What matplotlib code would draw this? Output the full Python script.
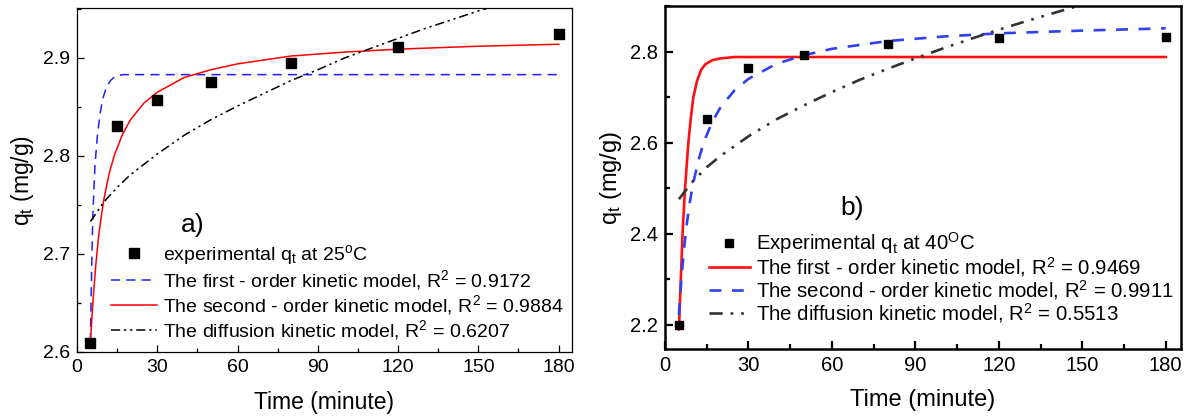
import matplotlib
matplotlib.use('Agg')
import matplotlib.pyplot as plt
from matplotlib.ticker import MultipleLocator

plt.rcParams['font.family'] = ['Liberation Sans', 'DejaVu Sans']
plt.rcParams['mathtext.default'] = 'regular'

# experimental points
t_exp = [5, 15, 30, 50, 80, 120, 180]
q_exp_25 = [2.609, 2.831, 2.857, 2.876, 2.895, 2.911, 2.924]
q_exp_40 = [2.200, 2.653, 2.763, 2.792, 2.816, 2.829, 2.831]

# panel a) model curves
t_fo_25 = [5, 5.3, 5.9, 6.7, 7.6, 8.6, 9.8, 11, 12.5, 14.2, 17, 180]
q_fo_25 = [2.610, 2.660, 2.738, 2.790, 2.820, 2.843, 2.860, 2.870, 2.877, 2.881, 2.883, 2.883]

t_so_25 = [5, 6, 7, 8, 9, 10, 12, 14, 17, 20, 25, 30, 40, 50, 60, 80, 100, 120, 150, 180]
q_so_25 = [2.610, 2.653, 2.688, 2.716, 2.737, 2.755, 2.782, 2.801, 2.822, 2.837, 2.854, 2.865,
           2.880, 2.888, 2.894, 2.902, 2.906, 2.909, 2.912, 2.914]

t_dif_25 = [5, 10, 15, 20, 30, 40, 50, 60, 70, 80, 90, 100, 110, 120, 130, 140, 150, 160]
q_dif_25 = [2.733, 2.753, 2.768, 2.781, 2.802, 2.821, 2.837, 2.851, 2.864, 2.877, 2.888, 2.900,
            2.910, 2.920, 2.930, 2.939, 2.948, 2.956]

# panel b) model curves
t_fo_40 = [5, 5.5, 6.3, 7.2, 8.4, 9.2, 10.2, 11.5, 13, 14.5, 17, 20, 25, 180]
q_fo_40 = [2.190, 2.270, 2.400, 2.500, 2.600, 2.650, 2.700, 2.735, 2.760, 2.772, 2.781, 2.785, 2.788, 2.788]

t_so_40 = [5, 6, 7, 8, 9, 10, 12, 14, 17, 20, 25, 30, 40, 50, 60, 80, 100, 120, 150, 180]
q_so_40 = [2.222, 2.310, 2.377, 2.429, 2.472, 2.507, 2.561, 2.602, 2.646, 2.678, 2.715, 2.740,
           2.773, 2.792, 2.806, 2.823, 2.833, 2.840, 2.846, 2.851]

t_dif_40 = [5, 10, 15, 20, 30, 40, 50, 60, 70, 80, 90, 100, 110, 120, 130, 140, 150, 160]
q_dif_40 = [2.476, 2.515, 2.546, 2.571, 2.614, 2.651, 2.682, 2.711, 2.738, 2.762, 2.785, 2.807,
            2.828, 2.848, 2.867, 2.885, 2.903, 2.920]

W, H = 1190, 417
fig = plt.figure(figsize=(W / 100, H / 100), dpi=100)


def box(x0, y0, x1, y1):
    # pixel box -> figure fraction rect
    return [x0 / W, 1 - y1 / H, (x1 - x0) / W, (y1 - y0) / H]


ax1 = fig.add_axes(box(77, 8, 572, 352))
ax2 = fig.add_axes(box(665, 6, 1181, 349))

# ---- panel a)
ax1.plot(t_exp, q_exp_25, 's', color='black', ms=7.2, zorder=5,
         label='experimental q$_t$ at 25$^o$C')
ax1.plot(t_fo_25, q_fo_25, color='#1f1fff', lw=1.1, dashes=(6, 4),
         label='The first - order kinetic model, R$^2$ = 0.9172')
ax1.plot(t_so_25, q_so_25, color='red', lw=1.1,
         label='The second - order kinetic model, R$^2$ = 0.9884')
ax1.plot(t_dif_25, q_dif_25, color='black', lw=1.1, dashes=(6, 2.5, 1.5, 2.5, 1.5, 2.5),
         label='The diffusion kinetic model, R$^2$ = 0.6207')
ax1.set_xlim(0, 185)
ax1.set_ylim(2.6, 2.951)
ax1.xaxis.set_major_locator(MultipleLocator(30))
ax1.xaxis.set_minor_locator(MultipleLocator(15))
ax1.yaxis.set_major_locator(MultipleLocator(0.1))
ax1.yaxis.set_minor_locator(MultipleLocator(0.05))
for s in ax1.spines.values():
    s.set_linewidth(0.9)
ax1.tick_params(direction='in', which='major', length=5, width=0.9, labelsize=14, pad=5)
ax1.tick_params(direction='in', which='minor', length=3, width=0.9)
ax1.set_xlabel('Time (minute)', fontsize=16.5, labelpad=11)
ax1.set_ylabel('q$_t$ (mg/g)', fontsize=16.5, labelpad=5)
fig.text(193 / W, 1 - 225 / H, 'a)', fontsize=19, ha='center', va='center')
ax1.legend(loc='upper left', bbox_to_anchor=(111 / W, 1 - 243 / H), bbox_transform=fig.transFigure,
           frameon=False, fontsize=14, handlelength=2.35, handletextpad=0.3, labelspacing=0.06,
           borderpad=0, borderaxespad=0)

# ---- panel b)
ax2.plot(t_exp, q_exp_40, 's', color='black', ms=6, zorder=5,
         label='Experimental q$_t$ at 40$^O$C')
ax2.plot(t_fo_40, q_fo_40, color='#ff1010', lw=1.9,
         label='The first - order kinetic model, R$^2$ = 0.9469')
ax2.plot(t_so_40, q_so_40, color='#3040f5', lw=1.9, dashes=(4.5, 4),
         label='The second - order kinetic model, R$^2$ = 0.9911')
ax2.plot(t_dif_40, q_dif_40, color='#333333', lw=1.9, dashes=(5, 3, 1, 3, 1, 3),
         label='The diffusion kinetic model, R$^2$ = 0.5513')
ax2.set_xlim(0, 185.5)
ax2.set_ylim(2.147, 2.9)
ax2.xaxis.set_major_locator(MultipleLocator(30))
ax2.xaxis.set_minor_locator(MultipleLocator(15))
ax2.yaxis.set_major_locator(MultipleLocator(0.2))
ax2.yaxis.set_minor_locator(MultipleLocator(0.1))
for s in ax2.spines.values():
    s.set_linewidth(1.8)
ax2.tick_params(direction='in', which='major', length=6, width=1.6, labelsize=14.5, pad=5)
ax2.tick_params(direction='in', which='minor', length=3.5, width=1.6)
ax2.set_xlabel('Time (minute)', fontsize=17, labelpad=10)
ax2.set_ylabel('q$_t$ (mg/g)', fontsize=17, labelpad=4)
fig.text(852 / W, 1 - 208 / H, 'b)', fontsize=19, ha='center', va='center')
ax2.legend(loc='upper left', bbox_to_anchor=(709 / W, 1 - 230 / H), bbox_transform=fig.transFigure,
           frameon=False, fontsize=14.7, handlelength=2.0, handletextpad=0.3, labelspacing=-0.05,
           borderpad=0, borderaxespad=0)

fig.savefig('out.png', dpi=100)
